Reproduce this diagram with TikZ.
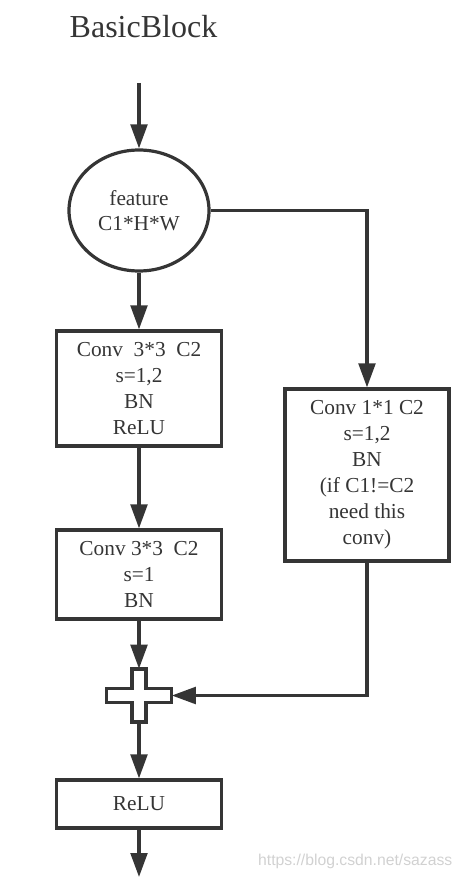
\documentclass[tikz,border=0pt]{standalone}
\usepackage{fontspec}
\setmainfont{Liberation Serif}
\setsansfont{Liberation Sans}
\usetikzlibrary{arrows.meta,shapes.geometric}
\definecolor{ink}{HTML}{353535}

\begin{document}
\begin{tikzpicture}[x=0.75pt, y=-0.75pt,
          >={Triangle[length=18pt,width=12.5pt]},
          flow/.style={->, line width=2.4pt, draw=ink},
          opbox/.style={rectangle, draw=ink, line width=2.4pt, inner sep=0pt,
            minimum width=123.75pt, align=center, text=ink,
            font=\fontsize{16}{19.5}\selectfont},
          featnode/.style={ellipse, draw=ink, line width=2.4pt, inner sep=0pt,
            minimum width=105pt, minimum height=90.75pt, align=center, text=ink,
            font=\fontsize{16}{18.75}\selectfont}]

        \useasboundingbox (0,0) rectangle (466,877);

        \node[anchor=base, text=ink, font=\fontsize{24}{28}\selectfont] (title) at (143.5,38) {BasicBlock};

        \coordinate (in)  at (139,83);
        \coordinate (out) at (139,877);

        \node[featnode] (feat) at (139,210.5) {feature\\C1*H*W};

        \node[opbox, minimum height=86.25pt] (conv1) at (139,388.5) {Conv\ \ 3*3\ \ C2\\s=1,2\\BN\\ReLU};
        \node[opbox, minimum height=66.75pt] (conv2) at (139,574.5) {Conv 3*3\ \ C2\\s=1\\BN};
        \node[opbox, minimum width=123pt, minimum height=129pt] (short) at (367,475) {Conv 1*1 C2\\s=1,2\\BN\\(if C1!=C2\\need this\\conv)};

        \node[minimum width=48.75pt, minimum height=39.75pt, inner sep=0pt] (sum) at (139,695.5) {};
        \draw[ink, fill=white, line width=2.4pt, shift={(sum.center)}]
          (-7,-26.5) -- (7,-26.5) -- (7,-7) -- (32.5,-7) -- (32.5,7) -- (7,7) -- (7,26.5)
          -- (-7,26.5) -- (-7,7) -- (-32.5,7) -- (-32.5,-7) -- (-7,-7) -- cycle;

        \node[opbox, minimum height=36pt] (relu) at (139,804) {ReLU};

        \draw[flow] (in)    -- (feat);
        \draw[flow] (feat)  -- (conv1);
        \draw[flow] (conv1) -- (conv2);
        \draw[flow] (conv2) -- (sum);
        \draw[flow] (feat.east) -| (short.north);
        \draw[flow] (short.south) |- (sum.east);
        \draw[flow] (sum)   -- (relu);
        \draw[flow] (relu)  -- (out);

        \node[anchor=base east, text=black!18, font=\sffamily\fontsize{11.8}{14}\selectfont] (mark) at (457,865) {https://blog.csdn.net/sazass};

      \end{tikzpicture}
\end{document}
